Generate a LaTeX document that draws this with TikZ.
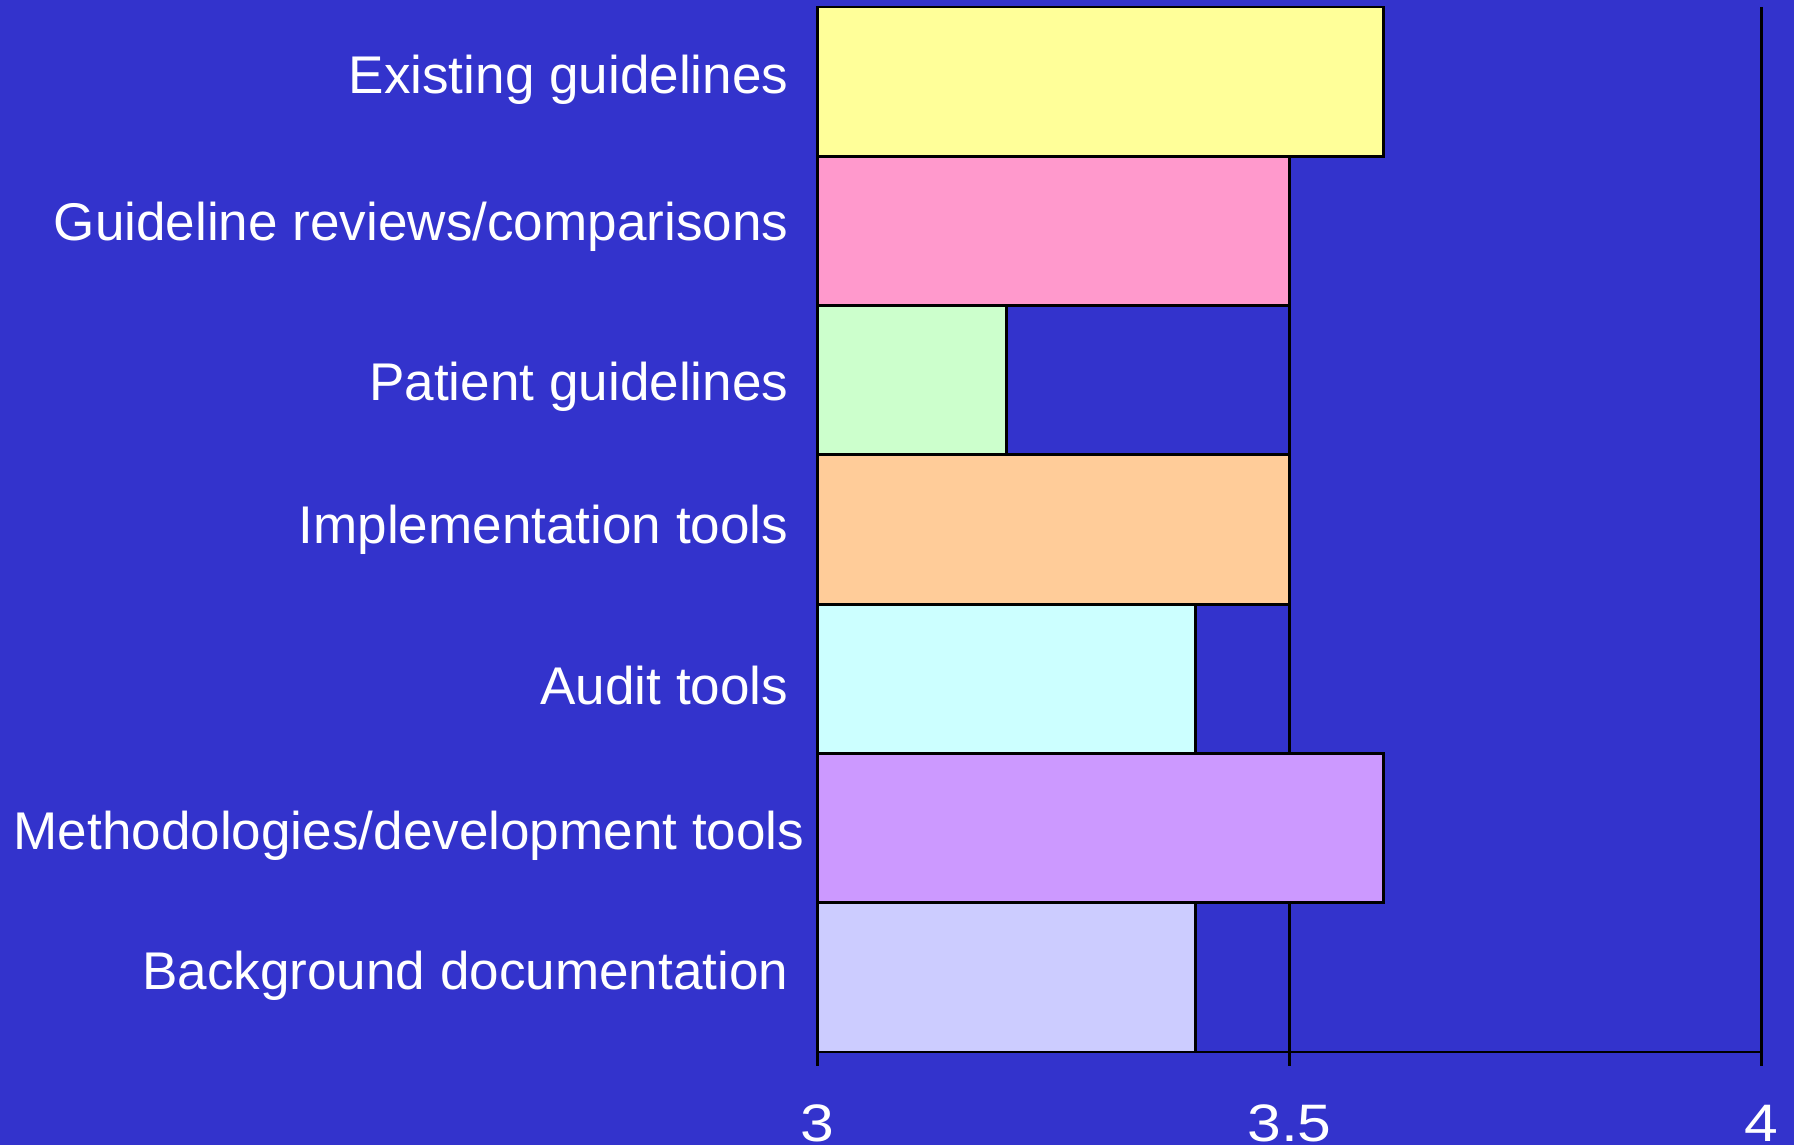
\documentclass[tikz,border=0pt]{standalone}
\usepackage{fontspec}
\setmainfont{Liberation Sans}
\definecolor{bgblue}{RGB}{51,51,204}
\definecolor{barA}{RGB}{255,255,153}
\definecolor{barB}{RGB}{255,153,204}
\definecolor{barC}{RGB}{204,255,204}
\definecolor{barD}{RGB}{255,204,153}
\definecolor{barE}{RGB}{204,255,255}
\definecolor{barF}{RGB}{204,153,255}
\definecolor{barG}{RGB}{204,204,255}
\tikzset{
  bar/.style={draw=black,line width=0.85pt},
  axisline/.style={black,line width=0.85pt},
  cat/.style={anchor=base east,inner sep=0pt,text=white,font=\fontsize{15.1pt}{18pt}\selectfont},
  ticklab/.style={anchor=base,inner sep=0pt,text=white,xscale=1.15,font=\fontsize{15pt}{18pt}\selectfont}
}
\begin{document}
\begin{tikzpicture}
\fill[bgblue] (0,0) rectangle (17.94,11.45);
\useasboundingbox (0,0) rectangle (17.94,11.45);
\draw[axisline] (12.895,11.38) -- (12.895,0.79);
\draw[axisline] (17.615,11.38) -- (17.615,0.79);
\draw[bar,fill=barA] (8.175,11.38) rectangle (13.839,9.887);
\draw[bar,fill=barB] (8.175,9.887) rectangle (12.895,8.394);
\draw[bar,fill=barC] (8.175,8.394) rectangle (10.063,6.901);
\draw[bar,fill=barD] (8.175,6.901) rectangle (12.895,5.409);
\draw[bar,fill=barE] (8.175,5.409) rectangle (11.951,3.916);
\draw[bar,fill=barF] (8.175,3.916) rectangle (13.839,2.423);
\draw[bar,fill=barG] (8.175,2.423) rectangle (11.951,0.93);
\draw[axisline] (8.175,11.38) -- (8.175,0.79);
\draw[axisline] (8.175,0.93) -- (17.615,0.93);
\node[cat] (existing) at (7.89,10.51) {Existing guidelines};
\node[cat] (reviews) at (7.89,9.04) {Guideline reviews/comparisons};
\node[cat] (patient) at (7.89,7.44) {Patient guidelines};
\node[cat] (implement) at (7.89,6.01) {Implementation tools};
\node[cat] (audit) at (7.89,4.40) {Audit tools};
\node[cat] (method) at (8.05,2.95) {Methodologies/development tools};
\node[cat] (background) at (7.89,1.55) {Background documentation};
\node[ticklab] (t3) at (8.175,0.04) {3};
\node[ticklab] (t35) at (12.895,0.04) {3.5};
\node[ticklab] (t4) at (17.615,0.04) {4};
\end{tikzpicture}
\end{document}
